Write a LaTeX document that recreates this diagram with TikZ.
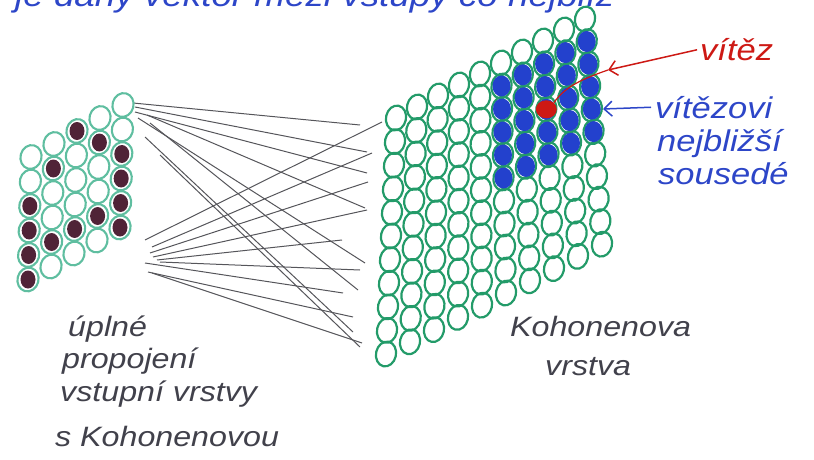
\documentclass[tikz,border=0pt]{standalone}
\usepackage{fontspec}
\newfontfamily\hand[FakeStretch=1.15]{Liberation Sans}
\usetikzlibrary{shapes.geometric,arrows.meta}
\definecolor{kgreen}{RGB}{35,155,105}
\definecolor{lgreen}{RGB}{95,190,160}
\definecolor{maroon}{RGB}{80,35,55}
\definecolor{kblue}{RGB}{35,65,205}
\definecolor{kred}{RGB}{205,25,20}
\definecolor{textblue}{RGB}{45,70,200}
\definecolor{pen}{RGB}{65,65,75}
\definecolor{wiregray}{RGB}{85,85,90}
\begin{document}
\begin{tikzpicture}[x=1pt,y=-1pt,
  kcell/.style={draw=kgreen,line width=2.2pt,ellipse,minimum width=20pt,minimum height=25pt,inner sep=0pt,rotate=-12},
  icell/.style={draw=lgreen,line width=2.1pt,ellipse,minimum width=21pt,minimum height=24pt,inner sep=0pt,rotate=-15},
  wire/.style={draw=wiregray,line width=1pt},
  lbl/.style={font=\hand\itshape\fontsize{28}{30}\selectfont,inner sep=0pt,anchor=base west},
  big/.style={font=\hand\itshape\fontsize{30}{32}\selectfont},
  barb/.style={-{Straight Barb[length=8pt,width=15pt,line width=1.5pt]}}
]
\useasboundingbox (0,0) rectangle (814,460);
\clip (0,0) rectangle (814,460);

% partially visible top line (cut by the picture's upper edge, as in the original)
\node[lbl,text=textblue,font=\hand\itshape\fontsize{32}{34}\selectfont] (top) at (15,7) {je daný vektor mezi vstupy co nejblíž};

% wires (full interconnection)
\foreach \n/\sx/\sy/\ex/\ey in {
  1/133/103/360/125, 2/135/107/367/152, 3/135/112/367/173, 4/147/115/365/208,
  5/138/118/365/263, 6/150/123/358/290, 7/145/137/353/332, 8/160/155/360/347,
  9/145/240/382/122, 10/152/247/372/153, 11/150/253/368/182, 12/153/257/367/210,
  13/157/260/342/240, 14/160/262/360/270, 15/145/263/343/293, 16/148/272/353/317,
  17/152/273/362/343}{
  \coordinate (ws\n) at (\sx,\sy);
  \coordinate (we\n) at (\ex,\ey);
  \draw[wire] (ws\n) -- (we\n);
}

% input layer (letter A)
\foreach \i in {0,...,4}{
  \foreach \j in {0,...,5}{
    \pgfmathsetmacro\cx{31+23*\i-0.6*\j}
    \pgfmathsetmacro\cy{157-13*\i+24.5*\j}
    \node[icell] (a-\i-\j) at (\cx,\cy) {};
  }
}
\foreach \i/\j in {2/0,1/1,3/1,0/2,4/2,0/3,4/3,0/4,1/4,2/4,3/4,4/4,0/5,4/5}{
  \fill[maroon] (a-\i-\j.center) ellipse [x radius=7.5pt, y radius=9pt];
}

% Kohonen layer
\foreach \i in {0,...,9}{
  \foreach \j in {0,...,10}{
    \pgfmathsetmacro\cx{396+21*\i+(-1.0+0.3*\i)*\j}
    \pgfmathsetmacro\cy{118-11*\i+(23.6-0.12*\i)*\j}
    \node[kcell] (k-\i-\j) at (\cx,\cy) {};
  }
}
\foreach \i in {5,...,9}{
  \foreach \j in {1,...,5}{
    \fill[kblue] (k-\i-\j.center) ellipse [x radius=9pt, y radius=10.5pt];
  }
}
\node[ellipse,fill=kred,minimum width=21pt,minimum height=18pt,inner sep=0pt] (win) at (k-7-3) {};

% labels
\node[lbl,text=pen] (l1) at (68,336) {úplné};
\node[lbl,text=pen] (l2) at (62,368) {propojení};
\node[lbl,text=pen] (l3) at (60,401) {vstupní vrstvy};
\node[lbl,text=pen] (l4) at (55,446) {s Kohonenovou};
\node[lbl,text=pen] (k1) at (510,336) {Kohonenova};
\node[lbl,text=pen] (k2) at (545,375) {vrstva};
\node[lbl,big,text=kred] (vit) at (700,60) {vítěz};
\node[lbl,big,text=textblue] (n1) at (655,118) {vítězovi};
\node[lbl,big,text=textblue] (n2) at (657,151) {nejbližší};
\node[lbl,big,text=textblue] (n3) at (658,184) {sousedé};

% arrows
\coordinate (rtip) at (608,70);
\draw[kred,line width=1.5pt,barb,shorten <=3pt] (vit.west) -- (rtip);
\draw[kred,line width=1.2pt] (rtip) .. controls (585,78) and (565,86) .. (win.north east);
\coordinate (btip) at (603,109);
\draw[textblue,line width=1.5pt,barb,shorten <=4pt] (n1.west) -- (btip);
\end{tikzpicture}
\end{document}
